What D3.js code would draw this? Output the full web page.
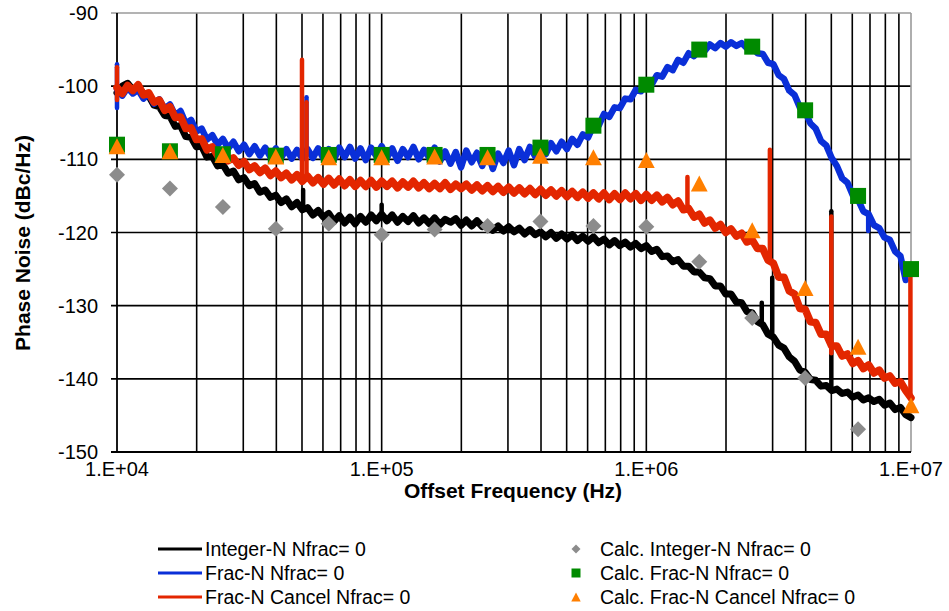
<!DOCTYPE html>
<html>
<head>
<meta charset="utf-8">
<script src="https://cdn.jsdelivr.net/npm/d3@7"></script>
<style>
  html, body { margin: 0; padding: 0; background: #fff; }
  svg { display: block; }
  text { font-family: "Liberation Sans", Arial, sans-serif; fill: #000; }
</style>
</head>
<body>
<svg id="chart" width="949" height="611"></svg>
<script>
// ---------------- DATA ----------------
const freqs = [
  1.000e4,1.047e4,1.096e4,1.148e4,1.202e4,1.259e4,1.318e4,1.380e4,1.445e4,1.514e4,
  1.585e4,1.660e4,1.738e4,1.820e4,1.905e4,1.995e4,2.089e4,2.188e4,2.291e4,2.399e4,
  2.512e4,2.630e4,2.754e4,2.884e4,3.020e4,3.162e4,3.311e4,3.467e4,3.631e4,3.802e4,
  3.981e4,4.169e4,4.365e4,4.571e4,4.786e4,5.012e4,5.248e4,5.495e4,5.754e4,6.026e4,
  6.310e4,6.607e4,6.918e4,7.244e4,7.586e4,7.943e4,8.318e4,8.710e4,9.120e4,9.550e4,
  1.000e5,1.047e5,1.096e5,1.148e5,1.202e5,1.259e5,1.318e5,1.380e5,1.445e5,1.514e5,
  1.585e5,1.660e5,1.738e5,1.820e5,1.905e5,1.995e5,2.089e5,2.188e5,2.291e5,2.399e5,
  2.512e5,2.630e5,2.754e5,2.884e5,3.020e5,3.162e5,3.311e5,3.467e5,3.631e5,3.802e5,
  3.981e5,4.169e5,4.365e5,4.571e5,4.786e5,5.012e5,5.248e5,5.495e5,5.754e5,6.026e5,
  6.310e5,6.607e5,6.918e5,7.244e5,7.586e5,7.943e5,8.318e5,8.710e5,9.120e5,9.550e5,
  1.000e6,1.047e6,1.096e6,1.148e6,1.202e6,1.259e6,1.318e6,1.380e6,1.445e6,1.514e6,
  1.585e6,1.660e6,1.738e6,1.820e6,1.905e6,1.995e6,2.089e6,2.188e6,2.291e6,2.399e6,
  2.512e6,2.630e6,2.754e6,2.884e6,3.020e6,3.162e6,3.311e6,3.467e6,3.631e6,3.802e6,
  3.981e6,4.169e6,4.365e6,4.571e6,4.786e6,5.012e6,5.248e6,5.495e6,5.754e6,6.026e6,
  6.310e6,6.607e6,6.918e6,7.244e6,7.586e6,7.943e6,8.318e6,8.710e6,9.120e6,9.550e6,
  1.000e7
];

const integerN = [
  -100.9,-100.0,-99.6,-100.5,-100.0,-101.1,-101.3,-102.6,-102.8,-104.0,
  -104.1,-105.5,-105.4,-106.9,-107.0,-108.3,-108.2,-109.7,-109.6,-110.9,
  -110.7,-111.9,-111.6,-112.8,-112.5,-113.6,-113.3,-114.5,-114.2,-115.2,
  -114.9,-115.9,-115.4,-116.5,-115.9,-116.9,-116.6,-117.6,-117.0,-117.9,
  -117.4,-118.5,-117.7,-118.7,-117.9,-118.8,-117.8,-118.6,-117.6,-118.4,
  -117.5,-118.4,-117.6,-118.6,-117.8,-118.5,-117.7,-118.7,-118.0,-118.8,
  -118.0,-118.9,-118.2,-118.6,-118.1,-119.0,-118.3,-119.1,-118.4,-119.2,
  -118.9,-119.7,-119.1,-119.8,-119.2,-119.9,-119.4,-120.2,-119.6,-120.3,
  -119.9,-120.6,-120.0,-120.8,-120.2,-120.9,-120.3,-121.1,-120.5,-121.2,
  -120.6,-121.4,-120.9,-121.7,-121.1,-121.8,-121.3,-122.0,-121.5,-122.2,
  -121.8,-122.6,-122.3,-123.3,-123.2,-124.0,-123.7,-124.6,-124.6,-125.4,
  -125.4,-126.2,-126.3,-127.3,-127.3,-128.4,-128.4,-129.5,-129.6,-130.8,
  -131.0,-132.2,-132.6,-133.9,-134.3,-135.4,-135.8,-137.0,-137.6,-138.8,
  -139.1,-140.1,-140.2,-141.0,-140.9,-141.6,-141.4,-142.0,-141.8,-142.5,
  -142.2,-142.9,-142.6,-143.1,-142.8,-143.6,-143.3,-144.2,-143.9,-144.9,
  -145.3
];

const fracN = [
  -100.4,-101.3,-100.2,-101.0,-100.5,-101.7,-101.1,-102.4,-101.8,-103.1,
  -102.5,-104.0,-103.4,-105.1,-104.6,-106.2,-105.8,-107.3,-106.7,-108.0,
  -107.2,-108.5,-107.6,-108.9,-108.0,-109.3,-108.2,-109.5,-108.4,-109.7,
  -108.5,-109.8,-108.6,-109.9,-108.7,-109.9,-108.6,-109.8,-108.5,-109.9,
  -108.6,-110.0,-108.4,-109.7,-108.3,-109.9,-108.5,-110.1,-108.4,-109.6,
  -108.2,-109.8,-108.5,-110.2,-108.6,-109.7,-108.3,-110.0,-108.7,-109.8,
  -108.4,-110.3,-108.9,-110.6,-109.0,-111.1,-108.8,-110.4,-109.1,-110.9,
  -108.9,-111.3,-109.2,-110.5,-108.8,-110.8,-108.6,-110.1,-108.3,-109.6,
  -108.0,-109.3,-107.8,-108.9,-107.6,-108.6,-107.2,-108.0,-106.6,-107.0,
  -105.4,-105.4,-103.8,-104.2,-102.9,-103.0,-101.7,-101.8,-100.5,-100.7,
  -99.5,-99.8,-98.5,-98.7,-97.4,-97.8,-96.4,-96.8,-95.5,-95.9,
  -94.9,-95.2,-94.3,-94.8,-94.1,-94.6,-94.0,-94.5,-94.1,-94.8,
  -94.6,-95.5,-95.6,-96.8,-97.0,-98.5,-99.0,-100.6,-101.2,-102.9,
  -103.5,-105.1,-105.8,-107.5,-108.1,-109.8,-110.9,-112.6,-113.2,-114.9,
  -115.5,-117.1,-117.5,-119.0,-119.4,-120.7,-121.0,-122.6,-123.2,-126.5,
  null
];

const fracNCancel = [
  -100.2,-101.0,-99.9,-100.6,-99.8,-101.2,-100.9,-102.2,-101.9,-103.3,
  -102.8,-104.3,-104.2,-105.8,-105.7,-107.3,-107.2,-108.7,-108.3,-109.5,
  -109.1,-110.2,-109.8,-110.8,-110.3,-111.4,-110.9,-111.8,-111.2,-112.2,
  -111.6,-112.5,-111.9,-112.8,-112.1,-113.0,-112.3,-113.2,-112.5,-113.4,
  -112.6,-113.5,-112.7,-113.6,-112.8,-113.7,-112.9,-113.7,-112.9,-113.8,
  -113.0,-113.7,-113.0,-113.9,-113.1,-113.8,-113.0,-113.9,-113.2,-114.0,
  -113.3,-114.0,-113.2,-114.1,-113.4,-114.0,-113.4,-114.2,-113.5,-114.3,
  -113.6,-114.4,-113.7,-114.5,-113.8,-114.6,-113.9,-114.7,-114.0,-114.8,
  -114.1,-114.9,-114.2,-115.0,-114.3,-115.1,-114.4,-115.2,-114.5,-115.3,
  -114.6,-115.4,-114.6,-115.5,-114.7,-115.5,-114.6,-115.4,-114.7,-115.6,
  -114.8,-115.6,-114.9,-115.8,-115.2,-116.2,-115.7,-116.9,-116.7,-117.9,
  -117.5,-118.7,-118.3,-119.4,-118.9,-120.0,-119.5,-120.5,-120.1,-121.3,
  -121.0,-122.2,-122.2,-123.8,-124.2,-126.1,-126.1,-128.0,-128.4,-130.4,
  -130.5,-132.2,-132.3,-133.9,-133.9,-135.5,-135.5,-136.9,-136.6,-137.9,
  -137.5,-138.6,-138.1,-139.2,-138.8,-139.9,-139.6,-140.6,-140.4,-141.6,
  -142.6
];

// spurs: [frequency, trace level, spur peak]
const integerNSpurs = [[5.05e4,-116.7,-114.2],[1.0e5,-117.9,-116.2],[2.73e6,-132.6,-129.6],[2.99e6,-134.3,-126.2],[5.0e6,-141.4,-117.1]];
const fracNSpurs = [[1.0e4,-103.0,-97.0],[5.2e4,-109.5,-101.5],[6.89e6,-117.3,-119.8]];
const fracNCancelSpurs = [[1.0e4,-101.9,-97.4],[5.0e4,-112.2,-96.4],[5.2e4,-112.5,-102.2],[1.43e6,-116.5,-112.4],[2.93e6,-124.0,-108.7],[5.0e6,-136.5,-117.8],[9.95e6,-142.8,-124.5]];

const calcFreqs = [1.0e4,1.585e4,2.512e4,3.981e4,6.31e4,1.0e5,1.585e5,2.512e5,3.981e5,6.31e5,1.0e6,1.585e6,2.512e6,3.981e6,6.31e6,1.0e7];
const calcIntegerN = [-112.1,-114.0,-116.5,-119.5,-118.8,-120.3,-119.6,-119.1,-118.5,-119.1,-119.2,-124.0,-131.7,-139.9,-146.9,null];
const calcFracN = [-108.0,-108.9,-109.3,-109.5,-109.4,-109.4,-109.4,-109.4,-108.4,-105.4,-99.8,-95.0,-94.6,-103.3,-115.0,-125.0];
const calcFracNCancel = [-108.2,-108.9,-109.4,-109.6,-109.7,-109.7,-109.6,-109.7,-109.5,-109.7,-110.1,-113.3,-119.7,-127.6,-135.6,-143.6];

const yTicks = [-150,-140,-130,-120,-110,-100,-90];
const xTicks = [1e4,1e5,1e6,1e7];
const xTickLabels = ["1.E+04","1.E+05","1.E+06","1.E+07"];

const lineSeries = [
  {name:"Integer-N Nfrac= 0", values:integerN, spurs:integerNSpurs, color:"#000000", w:7},
  {name:"Frac-N Nfrac= 0", values:fracN, spurs:fracNSpurs, color:"#0a2fd8", w:6.5},
  {name:"Frac-N Cancel Nfrac= 0", values:fracNCancel, spurs:fracNCancelSpurs, color:"#e32600", w:7.5}
];
const markerSeries = [
  {name:"Calc. Integer-N Nfrac= 0", values:calcIntegerN, shape:"diamond", color:"#8c8c8c"},
  {name:"Calc. Frac-N Nfrac= 0", values:calcFracN, shape:"square", color:"#008a00"},
  {name:"Calc. Frac-N Cancel Nfrac= 0", values:calcFracNCancel, shape:"triangle", color:"#ff7f00"}
];

// ---------------- LAYOUT ----------------
const L = 117, R = 911, T = 13, B = 452;
const svg = d3.select("#chart");
const x = d3.scaleLog().domain([1e4,1e7]).range([L,R]);
const y = d3.scaleLinear().domain([-150,-90]).range([B,T]);

// grid
const g = svg.append("g");
x.ticks().forEach(t => {
  if (t <= 1e4 || t >= 1e7) return;
  g.append("line").attr("x1",x(t)).attr("x2",x(t)).attr("y1",T).attr("y2",B)
   .attr("stroke","#000").attr("stroke-width",1.6);
});
yTicks.forEach(v => {
  if (v === -150 || v === -90) return;
  g.append("line").attr("x1",L-6).attr("x2",R).attr("y1",y(v)).attr("y2",y(v))
   .attr("stroke","#000").attr("stroke-width",1.6);
});
// borders
g.append("line").attr("x1",L-6).attr("x2",R).attr("y1",T).attr("y2",T).attr("stroke","#9a9a9a").attr("stroke-width",1.6);
g.append("line").attr("x1",R).attr("x2",R).attr("y1",T).attr("y2",B).attr("stroke","#9a9a9a").attr("stroke-width",1.6);
g.append("line").attr("x1",L).attr("x2",L).attr("y1",T).attr("y2",B).attr("stroke","#000").attr("stroke-width",1.8);
g.append("line").attr("x1",L-6).attr("x2",R).attr("y1",B).attr("y2",B).attr("stroke","#000").attr("stroke-width",1.8);

// y tick labels
yTicks.forEach(v => {
  svg.append("text").attr("x",98).attr("y",y(v)).attr("dy","0.35em")
    .attr("text-anchor","end").attr("font-size",20).text(v);
});
// x tick labels
xTicks.forEach((t,i) => {
  svg.append("text").attr("x",x(t)).attr("y",476).attr("text-anchor","middle")
    .attr("font-size",20).text(xTickLabels[i]);
});
// axis titles
svg.append("text").attr("x",513).attr("y",498).attr("text-anchor","middle")
  .attr("font-size",21).attr("font-weight","bold").text("Offset Frequency (Hz)");
svg.append("text").attr("transform","translate(30,243) rotate(-90)")
  .attr("text-anchor","middle").attr("font-size",21).attr("font-weight","bold")
  .text("Phase Noise (dBc/Hz)");

// traces
const line = d3.line().defined(d => d[1] !== null).x(d => x(d[0])).y(d => y(d[1]));
lineSeries.forEach(s => {
  const pts = freqs.map((f,i) => [f, s.values[i]]);
  svg.append("path").datum(pts).attr("d",line).attr("fill","none")
    .attr("stroke",s.color).attr("stroke-width",s.w).attr("stroke-linejoin","round").attr("stroke-linecap","round");
  s.spurs.forEach(sp => {
    svg.append("line").attr("x1",x(sp[0])).attr("x2",x(sp[0])).attr("y1",y(sp[1])).attr("y2",y(sp[2]))
      .attr("stroke",s.color).attr("stroke-width",4.5).attr("stroke-linecap","round");
  });
});

// markers
function markerPath(shape, r) {
  if (shape === "diamond") return `M0,${-r}L${r},0L0,${r}L${-r},0Z`;
  if (shape === "square") return `M${-r},${-r}H${r}V${r}H${-r}Z`;
  return `M0,${-r}L${r*1.05},${r}L${-r*1.05},${r}Z`;
}
markerSeries.forEach(s => {
  calcFreqs.forEach((f,i) => {
    const v = s.values[i];
    if (v === null) return;
    svg.append("path").attr("d",markerPath(s.shape, 8))
      .attr("transform",`translate(${x(f)},${y(v)})`).attr("fill",s.color);
  });
});

// legend
const legRows = [549, 573, 597];
lineSeries.forEach((s,i) => {
  svg.append("line").attr("x1",158).attr("x2",202).attr("y1",legRows[i]).attr("y2",legRows[i])
    .attr("stroke",s.color).attr("stroke-width",3.2);
  svg.append("text").attr("x",205).attr("y",legRows[i]).attr("dy","0.35em")
    .attr("font-size",19.5).text(s.name);
});
markerSeries.forEach((s,i) => {
  svg.append("path").attr("d",markerPath(s.shape, 4.5))
    .attr("transform",`translate(576,${legRows[i]})`).attr("fill",s.color);
  svg.append("text").attr("x",600).attr("y",legRows[i]).attr("dy","0.35em")
    .attr("font-size",19.5).text(s.name);
});
</script>
</body>
</html>
